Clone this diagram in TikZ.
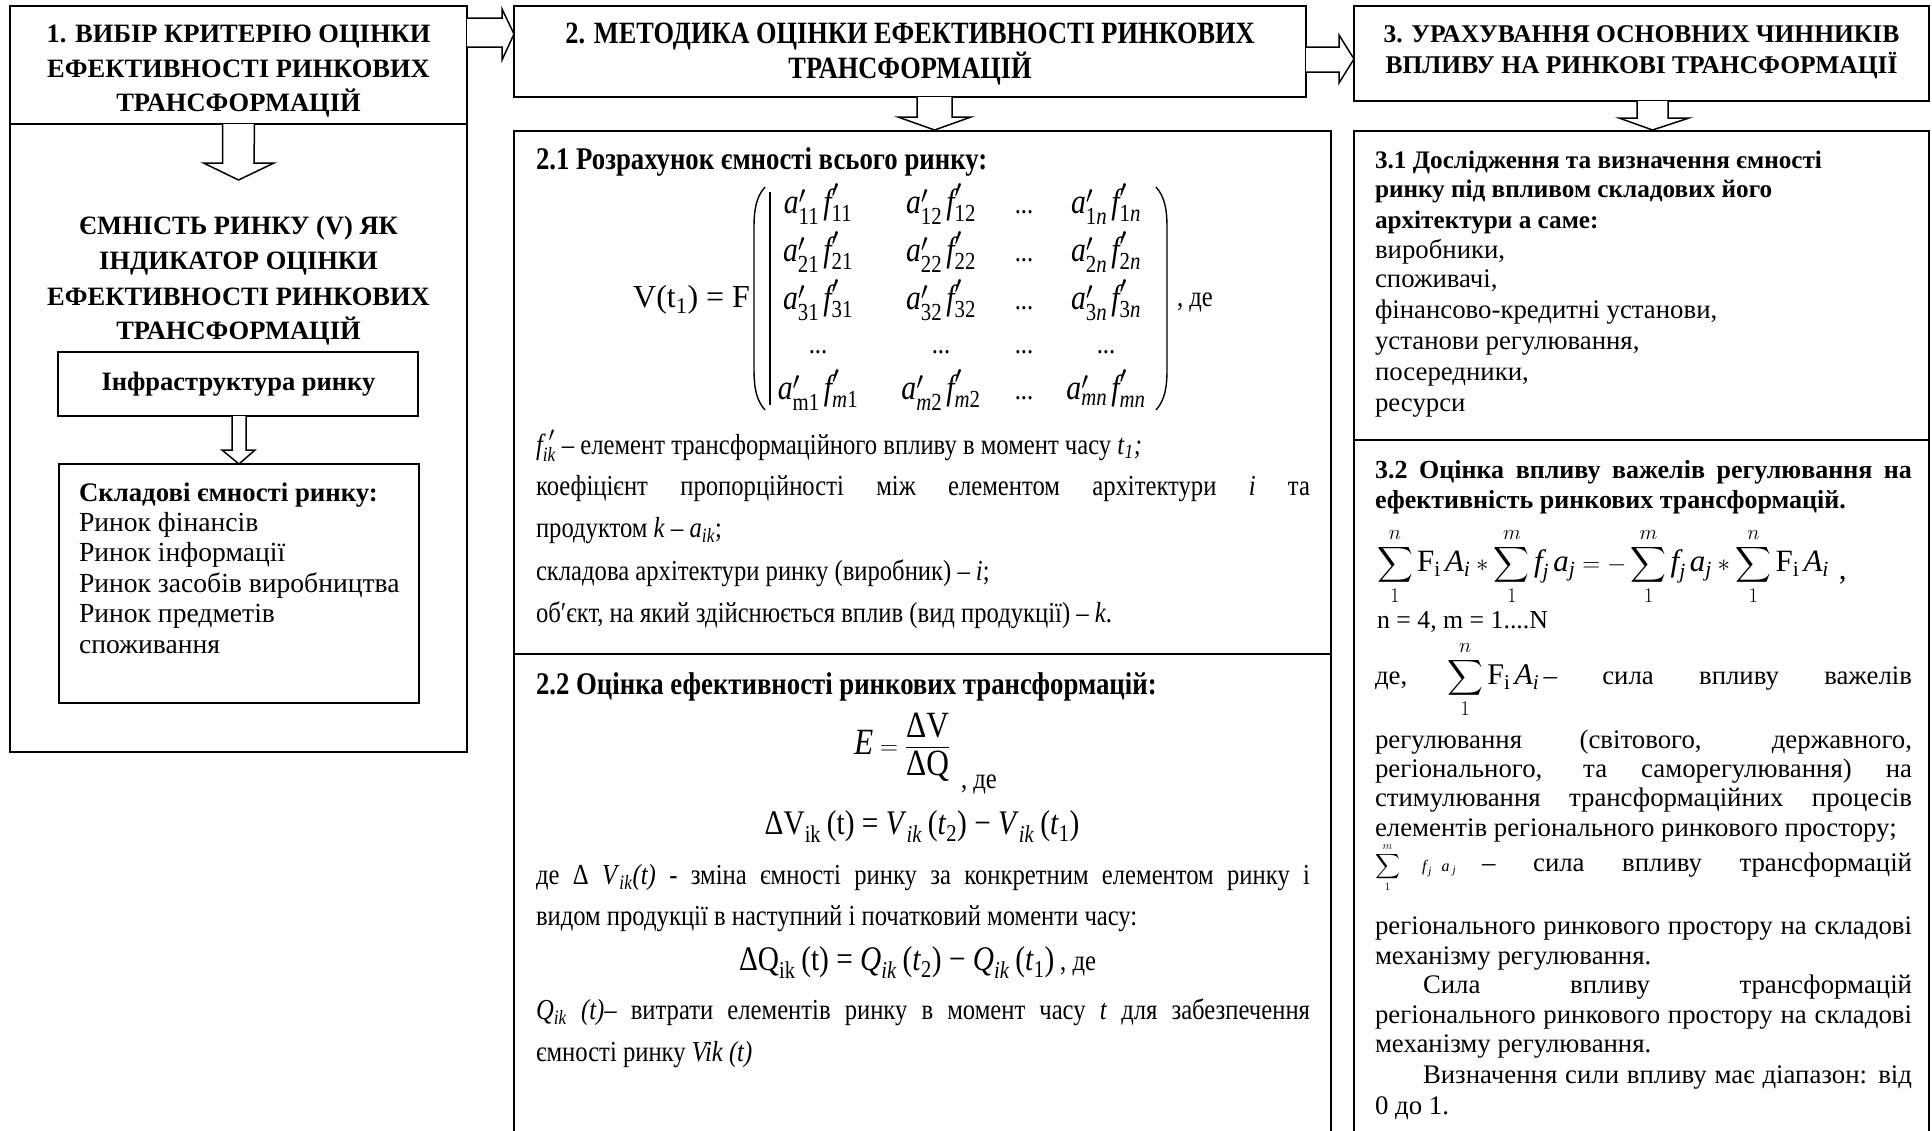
\documentclass[tikz,border=0pt]{standalone}
\usepackage{fontspec}
\usepackage{amsmath}
\setmainfont{Liberation Serif}
\newfontfamily\condf[FakeStretch=0.85]{Liberation Serif}
\usetikzlibrary{calc}
\newcommand\mi[1]{\text{\itshape #1}}
\newcommand\mr[1]{\text{\upshape #1}}
\newcommand\sbs[1]{\textsubscript{#1}}
\newcommand\fH{\fontsize{26.5}{32}\selectfont\bfseries}
\newcommand\fHr{\fontsize{25.5}{30}\selectfont\bfseries}
\newcommand\fR{\fontsize{26.8}{30}\selectfont}
\newcommand\fN{\fontsize{25.8}{30}\selectfont}
\newcommand\fL{\fontsize{27.6}{30}\selectfont}
\newcommand\fLb{\fontsize{26.8}{30}\selectfont\bfseries}
\newcommand\fRb{\fontsize{25.2}{30}\selectfont\bfseries}
\newcommand\fRB{\fontsize{26}{30}\selectfont\bfseries}
\newcommand\fC{\condf\fontsize{29}{34}\selectfont}
\newcommand\fCb{\condf\fontsize{31.5}{34}\selectfont\bfseries}
\newcommand\fCH{\condf\fontsize{31}{34}\selectfont\bfseries}
\newcommand\fCM{\condf\fontsize{34.5}{38}\selectfont}
\newcommand\fCE{\condf\fontsize{35}{38}\selectfont}
\newcommand\fCF{\condf\fontsize{37}{40}\selectfont}
\newcommand\fV{\fontsize{32}{36}\selectfont}
\newcommand\fS{\fontsize{30}{34}\selectfont}
\newcommand\fSS{\fontsize{31}{34}\selectfont}
\begin{document}
\begin{tikzpicture}[x=1pt,y=-1pt,
  box/.style={draw, line width=2pt, anchor=north west, inner sep=0pt, outer sep=0pt},
  barrow/.style={draw, line width=1.5pt, fill=white, line join=miter},
  tc/.style={inner sep=0pt, outer sep=0pt, anchor=base},
  tl/.style={inner sep=0pt, outer sep=0pt, anchor=base west},
  tr/.style={inner sep=0pt, outer sep=0pt, anchor=base east},
  paren/.style={line width=1.4pt}]
\useasboundingbox (0,0) rectangle (1932,1130);
\fill[white] (0,0) rectangle (1932,1130);

% ---------- boxes ----------
\node[box, minimum width=457pt, minimum height=628pt] (b1l) at (10,124) {};
\node[box, minimum width=457pt, minimum height=118pt] (b1) at (10,6) {};
\node[box, minimum width=360pt, minimum height=64pt] (inf) at (58,352) {};
\node[box, minimum width=360pt, minimum height=239pt] (skl) at (59,464) {};
\node[box, minimum width=792pt, minimum height=91pt] (b2) at (514,6) {};
\node[box, minimum width=817pt, minimum height=523pt] (b21) at (514,131) {};
\node[box, minimum width=817pt, minimum height=500pt] (b22) at (514,654) {};
\node[box, minimum width=575pt, minimum height=95pt] (b3) at (1354,6) {};
\node[box, minimum width=575pt, minimum height=309pt] (b31) at (1354,131) {};
\node[box, minimum width=575pt, minimum height=700pt] (b32) at (1354,440) {};

% ---------- block arrows ----------
\draw[barrow] ($(b1.north east)+(0,12)$) -- ++(35,0) -- ++(0,-9) -- ($(b2.north west)+(0,28)$)
  -- ($(b1.north east)+(35,54)$) -- ++(0,-13) -- ($(b1.north east)+(0,41)$);
\draw[barrow] ($(b2.north east)+(0,41)$) -- ++(33,0) -- ++(0,-12) -- ($(b3.north west)+(0,53)$)
  -- ($(b2.north east)+(33,77)$) -- ++(0,-11) -- ($(b2.north east)+(0,66)$);
\draw[barrow] ($(b2.south)+(7,0)$) -- ++(0,20) -- ++(-19,0) -- ($(b21.north)+(12,-1)$)
  -- ($(b2.south)+(61,20)$) -- ++(-19,0) -- ($(b2.south)+(42,0)$);
\draw[barrow] ($(b3.south)+(-4.5,0)$) -- ++(0,17) -- ++(-18,0) -- ($(b31.north)+(11,-1)$)
  -- ($(b3.south)+(47.5,17)$) -- ++(-21,0) -- ($(b3.south)+(26.5,0)$);
\draw[barrow] ($(b1.south)+(-16,0)$) -- ++(0,39) -- ++(-19,0) -- ($(b1.south)+(0,56)$)
  -- ($(b1.south)+(35.5,39)$) -- ++(-20,0) -- ($(b1.south)+(16,0)$);
\draw[barrow] ($(inf.south)+(-6,0)$) -- ++(0,34) -- ++(-10,0) -- ($(skl.north)+(0,0)$)
  -- ($(inf.south)+(17,34)$) -- ++(-9,0) -- ($(inf.south)+(8,0)$);

% ---------- column 1 ----------
\node[tc] (h1a) at (238.5,42) {\fH 1. ВИБІР КРИТЕРІЮ ОЦІНКИ};
\node[tc] (h1b) at (238.5,77) {\fH ЕФЕКТИВНОСТІ РИНКОВИХ};
\node[tc] (h1c) at (238.5,111) {\fH ТРАНСФОРМАЦІЙ};
\node[tc] (v1) at (238.5,234) {\fH ЄМНІСТЬ РИНКУ (V) ЯК};
\node[tc] (v2) at (238.5,269) {\fH ІНДИКАТОР ОЦІНКИ};
\node[tc] (v3) at (238.5,305) {\fH ЕФЕКТИВНОСТІ РИНКОВИХ};
\node[tc] (v4) at (238.5,339) {\fH ТРАНСФОРМАЦІЙ};
\node[tc] (inft) at (238.5,390) {\fH Інфраструктура ринку};
\node[tl] (s0) at (79,501) {\fLb Складові ємності ринку:};
\node[tl] (s1) at (79,531) {\fL Ринок фінансів};
\node[tl] (s2) at (79,561) {\fL Ринок інформації};
\node[tl] (s3) at (79,592) {\fL Ринок засобів виробництва};
\node[tl] (s4) at (79,622) {\fL Ринок предметів};
\node[tl] (s5) at (79,653) {\fL споживання};

% ---------- column 2 ----------
\node[tc] (h2a) at (910,43) {\fCH 2. МЕТОДИКА ОЦІНКИ ЕФЕКТИВНОСТІ РИНКОВИХ};
\node[tc] (h2b) at (910,78) {\fCH ТРАНСФОРМАЦІЙ};
\node[tl] (t21) at (536,169) {\fCb 2.1 Розрахунок ємності всього ринку:};

\node[tr] (vt) at (750,307) {\fV V(t\sbs{1}) = F};
\draw[paren] (765,187) .. controls (756,197) and (754,210) .. (754,228) -- (754,369)
  .. controls (754,387) and (756,400) .. (765,410);
\draw[line width=1.3pt] (770,192) -- (770,405);
\draw[paren] (1156,187) .. controls (1165,197) and (1167,210) .. (1167,228) -- (1167,369)
  .. controls (1167,387) and (1165,400) .. (1156,410);
\node[tl] (vde) at (1177,306) {\fC , де};

\node[tc] (m11) at (818,213) {\fCE $\mi{a}'_{\mr{11}}\,\mi{f}'_{\mr{11}}$};
\node[tc] (m12) at (941,213) {\fCE $\mi{a}'_{\mr{12}}\,\mi{f}'_{\mr{12}}$};
\node[tc] (m13) at (1024,213) {\fC ...};
\node[tc] (m14) at (1106,213) {\fCE $\mi{a}'_{\mr{1}\mi{n}}\,\mi{f}'_{\mr{1}\mi{n}}$};
\node[tc] (m21) at (818,261) {\fCE $\mi{a}'_{\mr{21}}\,\mi{f}'_{\mr{21}}$};
\node[tc] (m22) at (941,261) {\fCE $\mi{a}'_{\mr{22}}\,\mi{f}'_{\mr{22}}$};
\node[tc] (m23) at (1024,261) {\fC ...};
\node[tc] (m24) at (1106,261) {\fCE $\mi{a}'_{\mr{2}\mi{n}}\,\mi{f}'_{\mr{2}\mi{n}}$};
\node[tc] (m31) at (818,309) {\fCE $\mi{a}'_{\mr{31}}\,\mi{f}'_{\mr{31}}$};
\node[tc] (m32) at (941,309) {\fCE $\mi{a}'_{\mr{32}}\,\mi{f}'_{\mr{32}}$};
\node[tc] (m33) at (1024,309) {\fC ...};
\node[tc] (m34) at (1106,309) {\fCE $\mi{a}'_{\mr{3}\mi{n}}\,\mi{f}'_{\mr{3}\mi{n}}$};
\node[tc] (m41) at (818,353) {\fC ...};
\node[tc] (m42) at (941,353) {\fC ...};
\node[tc] (m43) at (1024,353) {\fC ...};
\node[tc] (m44) at (1106,353) {\fC ...};
\node[tc] (m51) at (818,399) {\fCE $\mi{a}'_{\mr{m1}}\,\mi{f}'_{\mi{m}\mr{1}}$};
\node[tc] (m52) at (941,399) {\fCE $\mi{a}'_{\mi{m}\mr{2}}\,\mi{f}'_{\mi{m}\mr{2}}$};
\node[tc] (m53) at (1024,399) {\fC ...};
\node[tc] (m54) at (1106,399) {\fCE $\mi{a}'_{\mi{mn}}\,\mi{f}'_{\mi{mn}}$};

\node[tl] (d1) at (536,454) {\fC $\mi{f}_{\mi{ik}}^{\;\prime}$ – елемент трансформаційного впливу в момент часу \textit{t}\sbs{\textit{1}}\textit{;}};
\node[tl] (d2) at (536,495) {\fC \hbox to 774pt{коефіцієнт пропорційності між елементом архітектури \textit{i} та}};
\node[tl] (d3) at (536,537) {\fC продуктом \textit{k} – \textit{a}\sbs{\textit{ik}};};
\node[tl] (d4) at (536,580) {\fC складова архітектури ринку (виробник) – \textit{i};};
\node[tl] (d5) at (536,622) {\fC об′єкт, на який здійснюється вплив (вид продукції) – \textit{k}.};

\node[tl] (t22) at (536,694) {\fCb 2.2 Оцінка ефективності ринкових трансформацій:};
\node[tl] (e1) at (854,754) {\fCF $\mi{E} = \dfrac{\mr{ΔV}}{\mr{ΔQ}}$};
\node[tl] (e1de) at (961,788) {\fC , де};
\node[tc] (e2) at (922,834) {\fCM ΔV\sbs{ik}\,(t) = \textit{V}\sbs{\textit{ik}}\,(\textit{t}\sbs{2}) − \textit{V}\sbs{\textit{ik}}\,(\textit{t}\sbs{1})};
\node[tl] (g1) at (536,884) {\fC \hbox to 774pt{де Δ \textit{V}\sbs{\textit{ik}}\textit{(t)} - зміна ємності ринку за конкретним елементом ринку і}};
\node[tl] (g2) at (536,925) {\fC видом продукції в наступний і початковий моменти часу:};
\node[tl] (e3) at (739,970) {\fCM ΔQ\sbs{ik}\,(t) = \textit{Q}\sbs{\textit{ik}}\,(\textit{t}\sbs{2}) − \textit{Q}\sbs{\textit{ik}}\,(\textit{t}\sbs{1})\,{\fC, де}};
\node[tl] (g3) at (536,1019) {\fC \hbox to 774pt{\textit{Q}\sbs{\textit{ik}} \textit{(t)}– витрати елементів ринку в момент часу \textit{t} для забезпечення}};
\node[tl] (g4) at (536,1061) {\fC ємності ринку \textit{Vik (t)}};

% ---------- column 3 ----------
\node[tc] (h3a) at (1641.5,42) {\fHr 3. УРАХУВАННЯ ОСНОВНИХ ЧИННИКІВ};
\node[tc] (h3b) at (1641.5,73) {\fHr ВПЛИВУ НА РИНКОВІ ТРАНСФОРМАЦІЇ};

\node[tl] (r1) at (1375,168) {\fRb 3.1 Дослідження та визначення ємності};
\node[tl] (r2) at (1375,197) {\fRb ринку під впливом складових його};
\node[tl] (r3) at (1375,228) {\fRb архітектури а саме:};
\node[tl] (r4) at (1375,258) {\fR виробники,};
\node[tl] (r5) at (1375,287) {\fR споживачі,};
\node[tl] (r6) at (1375,318) {\fR фінансово-кредитні установи,};
\node[tl] (r7) at (1375,349) {\fR установи регулювання,};
\node[tl] (r8) at (1375,380) {\fR посередники,};
\node[tl] (r9) at (1375,411) {\fR ресурси};

\node[tl] (p1) at (1375,478) {\fRB \hbox to 537pt{3.2 Оцінка впливу важелів регулювання на}};
\node[tl] (p2) at (1375,508) {\fRB ефективність ринкових трансформацій.};
\node[tl] (p3) at (1377,571) {\fSS $\displaystyle\sum_{1}^{n}\mr{F}_{\mr{i}}\,\mi{A}_{\mi{i}}*\sum_{1}^{m}\mi{f}_{\mi{j}}\,\mi{a}_{\mi{j}}=-\sum_{1}^{m}\mi{f}_{\mi{j}}\,\mi{a}_{\mi{j}}*\sum_{1}^{n}\mr{F}_{\mr{i}}\,\mi{A}_{\mi{i}}$\hspace{10pt}\raisebox{-8pt}{,}};
\node[tl] (p4) at (1377,628) {\fN n = 4, m = 1....N};
\node[tl] (p5) at (1375,684) {\fR \hbox to 537pt{де,\hspace{40pt}{\fS$\displaystyle\sum_{1}^{n}\mr{F}_{\mr{i}}\,\mi{A}_{\mi{i}}$}\,–\hfill сила\hfill впливу\hfill важелів}};
\node[tl] (p6) at (1375,748) {\fR \hbox to 537pt{регулювання (світового, державного,}};
\node[tl] (p7) at (1375,777) {\fR \hbox to 537pt{регіонального, та саморегулювання) на}};
\node[tl] (p8) at (1375,806) {\fR \hbox to 537pt{стимулювання трансформаційних процесів}};
\node[tl] (p9) at (1375,836) {\fR елементів регіонального ринкового простору;};
\node[tl] (p10) at (1375,871) {\fR \hbox to 537pt{{\fontsize{16}{16}\selectfont$\displaystyle\sum_{1}^{m}\;\;\;\;\mi{f}_{\,\mi{j}}\;\;\mi{a}_{\;\mi{j}}$}\hspace{26pt}–\hfill сила\hfill впливу\hfill трансформацій}};
\node[tl] (p11) at (1375,934) {\fR \hbox to 537pt{регіонального ринкового простору на складові}};
\node[tl] (p12) at (1375,964) {\fR механізму регулювання.};
\node[tl] (p13) at (1375,993) {\fR \hbox to 537pt{\hspace{48pt}Сила\hfill впливу\hfill трансформацій}};
\node[tl] (p14) at (1375,1023) {\fR \hbox to 537pt{регіонального ринкового простору на складові}};
\node[tl] (p15) at (1375,1052) {\fR механізму регулювання.};
\node[tl] (p16) at (1375,1083) {\fR \hbox to 537pt{\hspace{48pt}Визначення сили впливу має діапазон: від}};
\node[tl] (p17) at (1375,1114) {\fR 0 до 1.};
\end{tikzpicture}
\end{document}
